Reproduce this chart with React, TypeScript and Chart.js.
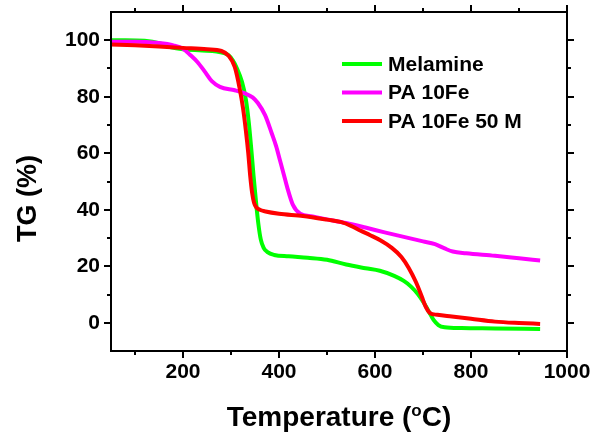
import React, { useEffect, useRef } from 'react';
import { Chart, registerables } from 'chart.js';

Chart.register(...registerables);

// ---- data ----
const seriesLabels = ['Melamine', 'PA 10Fe', 'PA 10Fe 50 M'];
const seriesColors = ['#00FF00', '#FF00FF', '#FF0000'];

const melamineT = [50, 80, 120, 150, 175, 200, 240, 270, 294, 304, 312, 323, 331, 337, 342, 347, 352, 357, 362, 368, 376, 390, 420, 460, 500, 540, 580, 610, 640, 660, 675, 690, 702, 712, 722, 732, 745, 780, 850, 944];
const melamineTG = [100, 100, 99.8, 99, 97.5, 96.8, 96.4, 96, 94.8, 92.8, 90.2, 85.2, 79, 71, 62, 52, 43, 35, 29.5, 26.5, 25, 24, 23.5, 23, 22.3, 20.6, 19.3, 18.4, 16.6, 14.8, 12.8, 10, 7, 4, 1, -0.8, -1.6, -1.9, -2, -2.2];

const pa10FeT = [50, 100, 150, 180, 200, 215, 230, 245, 260, 277, 308, 329, 345, 356, 371, 385, 394, 402, 410, 417, 429, 444, 470, 500, 540, 580, 620, 660, 700, 725, 745, 762, 790, 850, 900, 944];
const pa10FeTG = [99.5, 99.5, 99, 98.2, 97, 94.8, 92.3, 89, 85.5, 83.5, 82.3, 81.2, 79.8, 77.8, 73.5, 67, 62.5, 57.5, 52.5, 48, 41.7, 38.6, 37.6, 36.6, 35.3, 33.7, 32, 30.4, 28.8, 27.8, 26.3, 25.2, 24.6, 23.7, 22.8, 22];

const pa10Fe50MT = [50, 100, 150, 200, 250, 280, 295, 308, 318, 325, 331, 336, 340, 344, 348, 353, 360, 372, 400, 450, 500, 530, 550, 570, 590, 610, 635, 655, 670, 685, 697, 706, 714, 730, 760, 800, 850, 900, 944];
const pa10Fe50MTG = [98.5, 98.2, 97.8, 97.3, 96.8, 96.2, 94.5, 90.5, 83, 76, 68, 60, 52, 46, 42.5, 40.8, 40, 39.4, 38.6, 37.8, 36.5, 35.6, 34.3, 32.6, 31, 29.3, 26.5, 23.3, 19.5, 14.5, 9.5, 5.5, 3.5, 2.8, 2.2, 1.4, 0.4, -0.1, -0.4];

const xMin = 50;
const xMax = 1000;
const yMin = -10;
const yMax = 110;
const xMajorTicks = [200, 400, 600, 800, 1000];
const xMinorTicks = [100, 300, 500, 700, 900];
const yMajorTicks = [0, 20, 40, 60, 80, 100];
const yMinorTicks = [10, 30, 50, 70, 90];

const xTitleMain = 'Temperature (';
const xTitleSup = 'o';
const xTitleEnd = 'C)';
const yTitle = 'TG (%)';

const FONT = '"Liberation Sans", Arial, sans-serif';

function pairs(xs: number[], ys: number[]) {
  return xs.map((x, i) => ({ x, y: ys[i] }));
}

const decorPlugin = {
  id: 'decor',
  afterDraw(chart: any) {
    const ctx = chart.ctx as CanvasRenderingContext2D;
    const { left, right, top, bottom } = chart.chartArea;
    const xs = chart.scales.x;
    const ys = chart.scales.y;
    ctx.save();
    ctx.strokeStyle = '#000';
    ctx.lineWidth = 2;
    ctx.strokeRect(left, top, right - left, bottom - top);
    const major = 7;
    const minor = 4;
    ctx.beginPath();
    const xt = (v: number, len: number) => {
      const p = Math.round(xs.getPixelForValue(v));
      ctx.moveTo(p, bottom); ctx.lineTo(p, bottom + len);
      ctx.moveTo(p, top); ctx.lineTo(p, top - len);
    };
    const yt = (v: number, len: number) => {
      const p = Math.round(ys.getPixelForValue(v));
      ctx.moveTo(left, p); ctx.lineTo(left - len, p);
      ctx.moveTo(right, p); ctx.lineTo(right + len, p);
    };
    xMajorTicks.forEach((v) => xt(v, major));
    xMinorTicks.forEach((v) => xt(v, minor));
    yMajorTicks.forEach((v) => yt(v, major));
    yMinorTicks.forEach((v) => yt(v, minor));
    ctx.stroke();

    // legend
    ctx.font = `bold 21px ${FONT}`;
    ctx.textBaseline = 'middle';
    ctx.textAlign = 'left';
    chart.data.datasets.forEach((ds: any, i: number) => {
      const y = 64 + i * 28.5;
      ctx.strokeStyle = ds.borderColor;
      ctx.lineWidth = 4;
      ctx.beginPath();
      ctx.moveTo(342, y);
      ctx.lineTo(382, y);
      ctx.stroke();
      ctx.fillStyle = '#000';
      ctx.fillText(ds.label, 388, y + 1);
    });

    // x title with superscript
    ctx.fillStyle = '#000';
    ctx.textBaseline = 'alphabetic';
    const bigFont = `bold 28px ${FONT}`;
    const supFont = `bold 17px ${FONT}`;
    ctx.font = bigFont;
    const w1 = ctx.measureText(xTitleMain).width;
    const w3 = ctx.measureText(xTitleEnd).width;
    ctx.font = supFont;
    const w2 = ctx.measureText(xTitleSup).width;
    const total = w1 + w2 + w3;
    const cx = (left + right) / 2;
    const x0 = cx - total / 2;
    const base = 426;
    ctx.font = bigFont;
    ctx.fillText(xTitleMain, x0, base);
    ctx.font = supFont;
    ctx.fillText(xTitleSup, x0 + w1, base - 10);
    ctx.font = bigFont;
    ctx.fillText(xTitleEnd, x0 + w1 + w2, base);

    // y title
    ctx.save();
    ctx.translate(36, 198.5);
    ctx.rotate(-Math.PI / 2);
    ctx.textAlign = 'center';
    ctx.font = `bold 27px ${FONT}`;
    ctx.fillText(yTitle, 0, 0);
    ctx.restore();

    ctx.restore();
  },
};

function zeroPad(s: any) {
  s.paddingLeft = 0;
  s.paddingRight = 0;
  s.paddingTop = 0;
  s.paddingBottom = 0;
}

export default function App() {
  const ref = useRef<HTMLCanvasElement | null>(null);
  useEffect(() => {
    if (!ref.current) return;
    const xsList = [melamineT, pa10FeT, pa10Fe50MT];
    const ysList = [melamineTG, pa10FeTG, pa10Fe50MTG];
    const chart = new Chart(ref.current, {
      type: 'line',
      data: {
        datasets: seriesLabels.map((label, i) => ({
          label,
          data: pairs(xsList[i], ysList[i]),
          borderColor: seriesColors[i],
          backgroundColor: seriesColors[i],
          borderWidth: 4,
          pointRadius: 0,
          cubicInterpolationMode: 'monotone' as const,
          fill: false,
          order: 3 - i,
        })),
      },
      options: {
        animation: false,
        responsive: false,
        devicePixelRatio: 1,
        layout: { padding: { left: 0, top: 12, right: 28, bottom: 0 } },
        plugins: { legend: { display: false }, tooltip: { enabled: false } },
        scales: {
          x: {
            type: 'linear',
            min: xMin,
            max: xMax,
            afterBuildTicks: (s: any) => { s.ticks = xMajorTicks.map((v) => ({ value: v })); },
            afterFit: (s: any) => { s.height = 81; zeroPad(s); },
            grid: { display: false, drawTicks: false },
            border: { display: false },
            ticks: {
              color: '#000',
              padding: 9,
              maxRotation: 0,
              autoSkip: false,
              callback: (v: any) => String(v),
              font: { family: FONT, size: 21, weight: 'bold' },
            },
          },
          y: {
            type: 'linear',
            min: yMin,
            max: yMax,
            afterBuildTicks: (s: any) => { s.ticks = yMajorTicks.map((v) => ({ value: v })); },
            afterFit: (s: any) => { s.width = 111; zeroPad(s); },
            grid: { display: false, drawTicks: false },
            border: { display: false },
            ticks: {
              color: '#000',
              padding: 11,
              autoSkip: false,
              callback: (v: any) => String(v),
              font: { family: FONT, size: 21, weight: 'bold' },
            },
          },
        },
      },
      plugins: [decorPlugin],
    } as any);
    return () => chart.destroy();
  }, []);
  return (
    <div style={{ position: 'fixed', left: 0, top: 0, width: 595, height: 432, background: '#fff' }}>
      <canvas ref={ref} width={595} height={432} />
    </div>
  );
}
